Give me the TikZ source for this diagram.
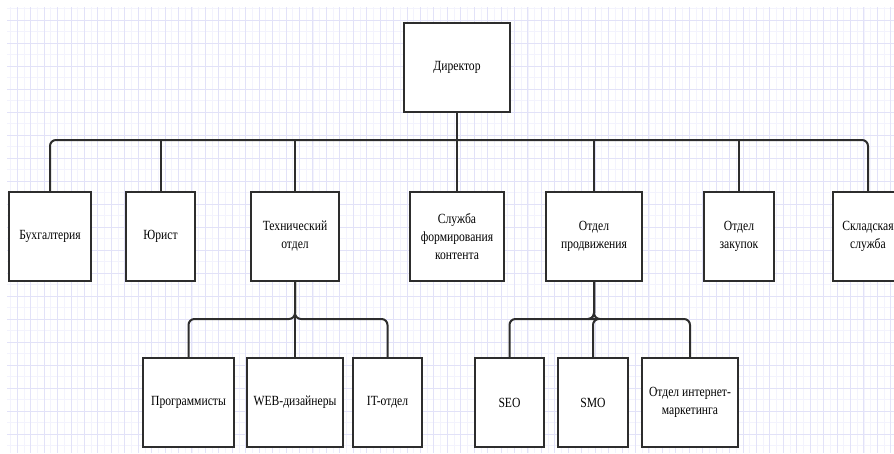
\documentclass[tikz,border=0pt]{standalone}
\usepackage{fontspec}
\setmainfont[FakeStretch=0.83]{Liberation Serif}
\definecolor{gridA}{RGB}{226,226,248}
\definecolor{gridB}{RGB}{243,243,253}
\definecolor{edge}{RGB}{45,45,45}
\begin{document}
\begin{tikzpicture}[x=1pt,y=-1pt,
  box/.style={draw=edge, line width=1.6pt, fill=white, inner sep=0pt, align=center,
              minimum height=89pt, font=\fontsize{14}{18}\selectfont},
  link/.style={draw=edge, line width=2pt, rounded corners=6pt},
  stem/.style={draw=edge, line width=2pt},
  gridmajor/.style={draw=gridA, line width=0.9pt},
  gridminor/.style={draw=gridB, line width=0.8pt}]
\useasboundingbox (0,0) rectangle (894,453);
\clip (0,0) rectangle (894,453);
% background grid
\foreach \i in {0,...,132} {
  \pgfmathsetmacro{\xx}{10.5+6.72*\i}
  \draw[gridminor] (\xx,7) -- (\xx,453);
}
\foreach \i in {0,...,39} {
  \pgfmathsetmacro{\yy}{8.5+23.02*\i}
  \draw[gridminor] (7,\yy) -- (894,\yy);
}
\foreach \i in {0,...,66} {
  \pgfmathsetmacro{\xx}{17.2+13.44*\i}
  \draw[gridmajor] (\xx,7) -- (\xx,453);
}
\foreach \i in {0,...,19} {
  \pgfmathsetmacro{\yy}{20+23.02*\i}
  \draw[gridmajor] (7,\yy) -- (894,\yy);
}
% nodes
\node[box, minimum width=106pt] (dir) at (457,67.5) {Директор};
\node[box, minimum width=82pt] (buh) at (50,236.5) {Бухгалтерия};
\node[box, minimum width=69pt] (jur) at (160.5,236.5) {Юрист};
\node[box, minimum width=88pt] (tech) at (295,236.5) {Технический\\отдел};
\node[box, minimum width=94pt] (sluzh) at (457,236.5) {Служба\\формирования\\контента};
\node[box, minimum width=96pt] (prod) at (594,236.5) {Отдел\\продвижения};
\node[box, minimum width=70pt] (zak) at (739,236.5) {Отдел\\закупок};
\node[box, minimum width=70pt] (sklad) at (868,236.5) {Складская\\служба};
\node[box, minimum width=91pt] (prog) at (188.5,402.5) {Программисты};
\node[box, minimum width=96pt] (web) at (295,402.5) {WEB-дизайнеры};
\node[box, minimum width=69pt] (it) at (387.5,402.5) {IT-отдел};
\node[box, minimum width=69pt] (seo) at (509.5,402.5) {SEO};
\node[box, minimum width=70pt] (smo) at (593,402.5) {SMO};
\node[box, minimum width=96pt] (imark) at (690,402.5) {Отдел интернет-\\маркетинга};
% bus levels
\coordinate (bus1) at (457,140);
\coordinate (bus2) at (295,319);
\coordinate (bus3) at (594,319);
% top level connectors: bus with rounded ends, straight T junctions
\draw[link] (buh.north) -- (buh.north |- bus1) -- (sklad.north |- bus1) -- (sklad.north);
\draw[stem] (dir.south) -- (dir.south |- bus1);
\foreach \c in {jur,tech,sluzh,prod,zak}
  \draw[stem] (\c.north |- bus1) -- (\c.north);
% second level connectors
\foreach \c in {prog,web,it}
  \draw[link] (tech.south) -- (tech.south |- bus2) -- (\c.north |- bus2) -- (\c.north);
\foreach \c in {seo,smo,imark}
  \draw[link] (prod.south) -- (prod.south |- bus3) -- (\c.north |- bus3) -- (\c.north);
\end{tikzpicture}
\end{document}
